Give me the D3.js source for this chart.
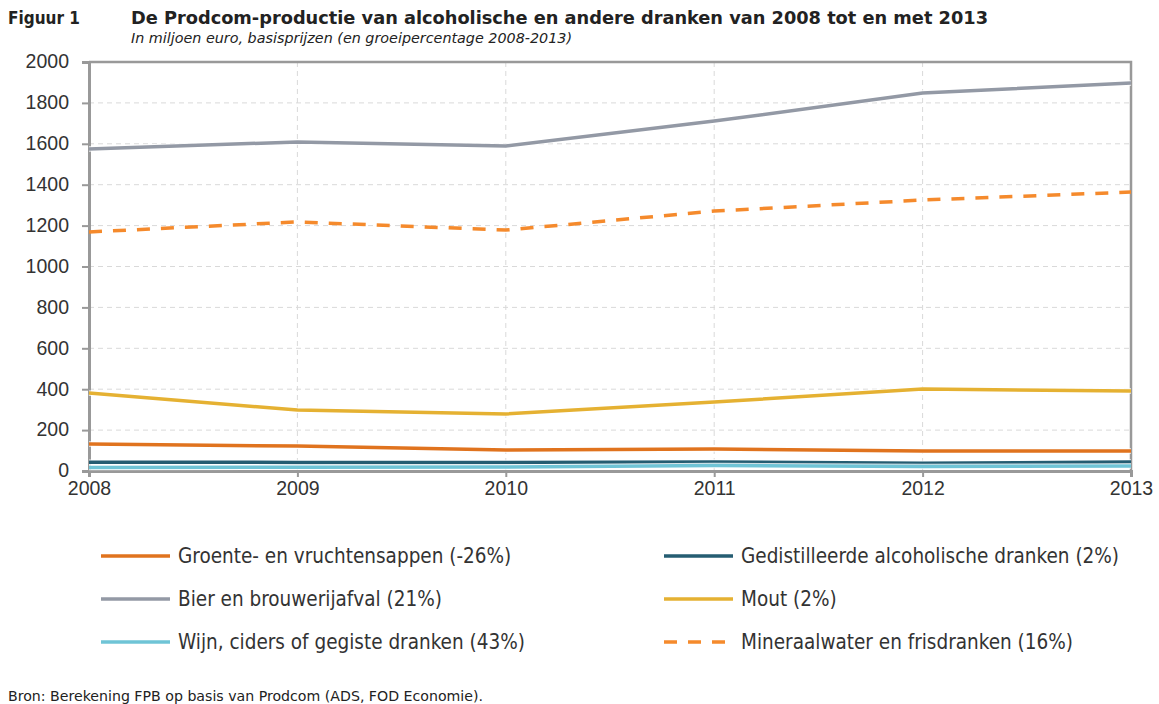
<!DOCTYPE html>
<html>
<head>
<meta charset="utf-8">
<script src="https://cdnjs.cloudflare.com/ajax/libs/d3/7.8.5/d3.min.js"></script>
<style>
  body { margin: 0; background: #fff; }
  svg { display: block; font-family: "DejaVu Sans Condensed", "DejaVu Sans", sans-serif; font-stretch: condensed; }
</style>
</head>
<body>
<div id="chart"></div>
<script>
// data
var years = [2008, 2009, 2010, 2011, 2012, 2013];
var yTicks = [0, 200, 400, 600, 800, 1000, 1200, 1400, 1600, 1800, 2000];

var groente = [132, 122, 103, 108, 98, 98];
var bier = [1575, 1609, 1589, 1711, 1848, 1897];
var wijn = [17, 18, 19, 27, 22, 24];
var gedistilleerd = [43, 42, 42, 44, 38, 44];
var mout = [381, 298, 279, 337, 401, 391];
var mineraal = [1169, 1218, 1178, 1271, 1325, 1364];

var names = [
  "Groente- en vruchtensappen (-26%)",
  "Gedistilleerde alcoholische dranken (2%)",
  "Bier en brouwerijafval (21%)",
  "Mout (2%)",
  "Wijn, ciders of gegiste dranken (43%)",
  "Mineraalwater en frisdranken (16%)"
];

var series = [
  {name: names[0], values: groente, color: "#e0731e", dash: null},
  {name: names[1], values: gedistilleerd, color: "#255d72", dash: null},
  {name: names[2], values: bier, color: "#9399a5", dash: null},
  {name: names[3], values: mout, color: "#e5b132", dash: null},
  {name: names[4], values: wijn, color: "#6fc4d6", dash: null},
  {name: names[5], values: mineraal, color: "#f58a2c", dash: "13,11"}
];
// drawing order: back to front
var drawOrder = [2, 5, 3, 0, 1, 4];

var width = 1159, height = 704;
var margin = {top: 62, right: 28, bottom: 233, left: 89};
var w = width - margin.left - margin.right,
  h = height - margin.top - margin.bottom;

var svg = d3.select("#chart").append("svg")
  .attr("width", width)
  .attr("height", height);

// titles
svg.append("text")
  .attr("x", 8).attr("y", 24)
  .style("font-weight", "bold").style("font-size", "17px").attr("fill", "#222")
  .text("Figuur 1");
svg.append("text")
  .attr("x", 131).attr("y", 24)
  .style("font-weight", "bold").style("font-size", "17px").attr("fill", "#222")
  .attr("textLength", 857).attr("lengthAdjust", "spacingAndGlyphs")
  .text("De Prodcom-productie van alcoholische en andere dranken van 2008 tot en met 2013");
svg.append("text")
  .attr("x", 131).attr("y", 43)
  .style("font-style", "italic").style("font-size", "13.5px").attr("fill", "#222")
  .attr("textLength", 441).attr("lengthAdjust", "spacingAndGlyphs")
  .text("In miljoen euro, basisprijzen (en groeipercentage 2008-2013)");

var g = svg.append("g")
  .attr("transform", "translate(" + margin.left + "," + margin.top + ")");

var x = d3.scaleLinear().domain([2008, 2013]).range([0, w]);
var y = d3.scaleLinear().domain([0, 2000]).range([h, 0]);

// gridlines
g.append("g").selectAll("line")
  .data(yTicks.filter(function (d) { return d > 0 && d < 2000; }))
  .join("line")
  .attr("x1", 0).attr("x2", w)
  .attr("y1", function (d) { return y(d); })
  .attr("y2", function (d) { return y(d); })
  .attr("stroke", "#d9d9d9").attr("stroke-dasharray", "5,4");
g.append("g").selectAll("line")
  .data(years.slice(1, -1))
  .join("line")
  .attr("x1", function (d) { return x(d); })
  .attr("x2", function (d) { return x(d); })
  .attr("y1", 0).attr("y2", h)
  .attr("stroke", "#d9d9d9").attr("stroke-dasharray", "5,4");

// frame: top and right
g.append("path")
  .attr("d", "M0,0H" + w + "V" + h)
  .attr("fill", "none").attr("stroke", "#999").attr("stroke-width", 2.5);

// axes
var yAxis = d3.axisLeft(y).tickValues(yTicks).tickSize(7).tickPadding(13).tickFormat(d3.format("d"));
var xAxis = d3.axisBottom(x).tickValues(years).tickSize(6).tickPadding(2).tickFormat(d3.format("d"));

g.append("g").call(yAxis)
  .call(function (a) { a.select(".domain").attr("stroke", "#999").attr("stroke-width", 3); })
  .call(function (a) { a.selectAll(".tick line").attr("stroke", "#999").attr("stroke-width", 2); })
  .call(function (a) {
    a.selectAll(".tick text").attr("fill", "#333").style("font-size", "19.5px")
      .style("font-family", null).attr("dy", "0.3em");
  });

g.append("g").attr("transform", "translate(0," + h + ")").call(xAxis)
  .call(function (a) { a.select(".domain").attr("stroke", "#999").attr("stroke-width", 3); })
  .call(function (a) { a.selectAll(".tick line").attr("stroke", "#999").attr("stroke-width", 2); })
  .call(function (a) {
    a.selectAll(".tick text").attr("fill", "#333").style("font-size", "19.5px")
      .style("font-family", null).attr("dy", "0.8em");
  });

var line = d3.line()
  .x(function (d, i) { return x(years[i]); })
  .y(function (d) { return y(d); });

var lines = g.append("g");
drawOrder.forEach(function (k) {
  var s = series[k];
  if (!s.dash) {
    lines.append("path")
      .attr("d", line(s.values))
      .attr("fill", "none").attr("stroke", "#fff").attr("stroke-width", 5.5)
      .attr("stroke-opacity", 0.8);
  }
  lines.append("path")
    .attr("d", line(s.values))
    .attr("fill", "none")
    .attr("stroke", s.color)
    .attr("stroke-width", 3.5)
    .attr("stroke-dasharray", s.dash);
});

// legend
var legend = svg.append("g").selectAll("g")
  .data(series)
  .join("g")
  .attr("transform", function (d, i) {
    return "translate(" + (i % 2 ? 664 : 101) + "," + (556 + Math.floor(i / 2) * 43) + ")";
  });
legend.append("line")
  .attr("x1", 0).attr("x2", 69)
  .attr("stroke", function (d) { return d.color; })
  .attr("stroke-width", 3.5)
  .attr("stroke-dasharray", function (d) { return d.dash; });
legend.append("text")
  .attr("x", 77).attr("dy", "0.36em")
  .attr("fill", "#333").style("font-size", "20.5px")
  .text(function (d) { return d.name; });

// source
svg.append("text")
  .attr("x", 8).attr("y", 701)
  .style("font-size", "13.5px").attr("fill", "#222")
  .attr("textLength", 475).attr("lengthAdjust", "spacingAndGlyphs")
  .text("Bron: Berekening FPB op basis van Prodcom (ADS, FOD Economie).");
</script>
</body>
</html>
